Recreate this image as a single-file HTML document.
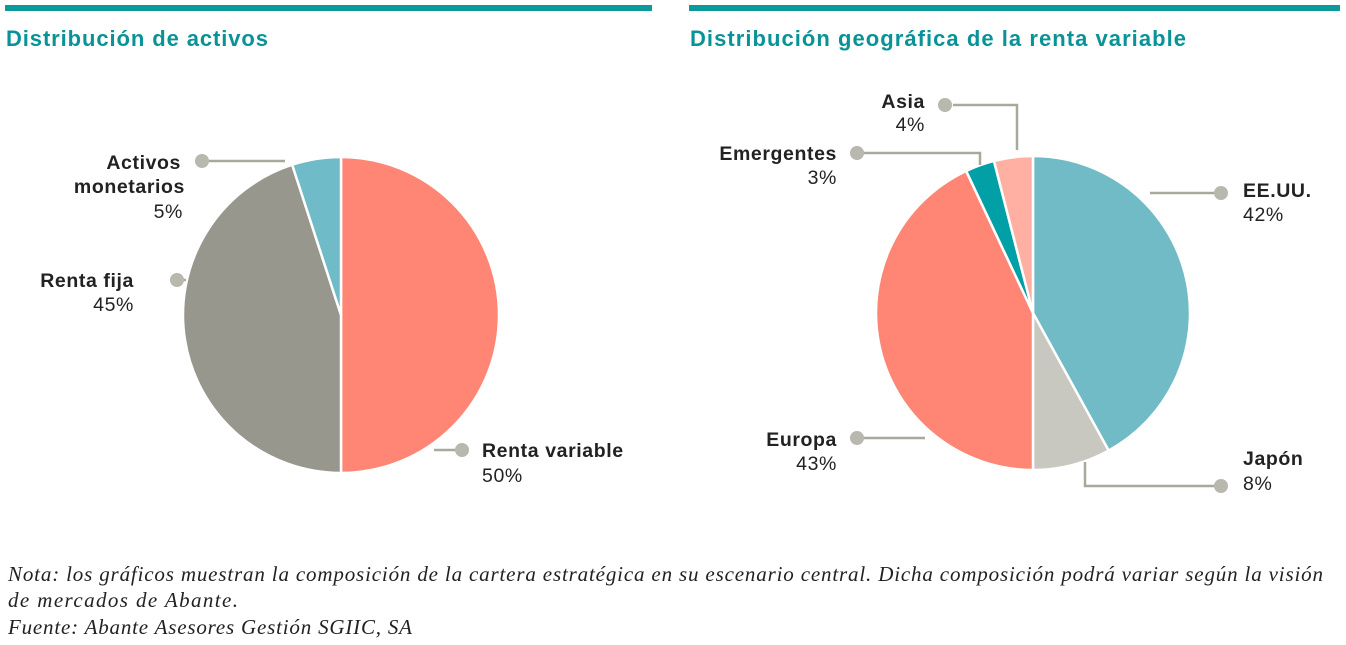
<!DOCTYPE html>
<html><head><meta charset="utf-8">
<style>
body{margin:0;width:1346px;height:645px;background:#fff;overflow:hidden;font-family:"Liberation Sans",sans-serif;}
svg{position:absolute;left:0;top:0}
.t{font-weight:bold;fill:#222;font-size:19.5px;letter-spacing:0.6px}
.p{fill:#222;font-size:19.5px;letter-spacing:0.6px}
.h{font-weight:bold;fill:#0a9396;font-size:22px}
.f{font-family:"Liberation Serif",serif;font-style:italic;font-size:21px;fill:#222}
</style></head><body>
<svg id="s" width="1346" height="645">
<rect x="5" y="5" width="647" height="6" fill="#0a9a9c"/>
<rect x="689" y="5" width="651" height="6" fill="#0a9a9c"/>
<text class="h" x="6" y="46" textLength="262">Distribución de activos</text>
<text class="h" x="690" y="46" textLength="496">Distribución geográfica de la renta variable</text>
<g id="pie1"></g>
<g id="pie2"></g>
<g stroke="#a8a89c" stroke-width="2.5" fill="none">
<polyline points="202,161 285,161"/><polyline points="177,280 186,280"/><polyline points="462,450 434,450"/>
<polyline points="953,105 1017,105 1017,150"/><polyline points="857,153 980,153 980,165"/>
<polyline points="1221,193 1150,193"/><polyline points="857,438 925,438"/><polyline points="1221,486 1085,486 1085,462"/>
</g>
<g fill="#b8b8ae">
<circle cx="202" cy="161" r="7"/><circle cx="177" cy="280" r="7"/><circle cx="462" cy="450" r="7"/>
<circle cx="945" cy="105" r="7"/><circle cx="857" cy="153" r="7"/><circle cx="1221" cy="193" r="7"/>
<circle cx="857" cy="438" r="7"/><circle cx="1221" cy="486" r="7"/>
</g>
<g>
<text class="t" x="181" y="169" text-anchor="end">Activos</text>
<text class="t" x="185" y="193" text-anchor="end">monetarios</text>
<text class="p" x="183" y="218" text-anchor="end">5%</text>
<text class="t" x="134" y="287" text-anchor="end">Renta fija</text>
<text class="p" x="134" y="311" text-anchor="end">45%</text>
<text class="t" x="482" y="457">Renta variable</text>
<text class="p" x="482" y="482">50%</text>
</g>
<g>
<text class="t" x="925" y="108" text-anchor="end">Asia</text>
<text class="p" x="925" y="131" text-anchor="end">4%</text>
<text class="t" x="837" y="160" text-anchor="end">Emergentes</text>
<text class="p" x="837" y="184" text-anchor="end">3%</text>
<text class="t" x="1243" y="197">EE.UU.</text>
<text class="p" x="1243" y="221">42%</text>
<text class="t" x="837" y="446" text-anchor="end">Europa</text>
<text class="p" x="837" y="470" text-anchor="end">43%</text>
<text class="t" x="1243" y="465">Japón</text>
<text class="p" x="1243" y="490">8%</text>
</g>
<g>
<text class="f" x="8" y="581" textLength="1315">Nota: los gráficos muestran la composición de la cartera estratégica en su escenario central. Dicha composición podrá variar según la visión</text>
<text class="f" x="8" y="607" textLength="230">de mercados de Abante.</text>
<text class="f" x="8" y="634" textLength="404">Fuente: Abante Asesores Gestión SGIIC, SA</text>
</g>
</svg>
<script>
const assetCats=["Renta variable","Renta fija","Activos monetarios"];
const assetVals=[50,45,5];
const geoCats=["EE.UU.","Japón","Europa","Emergentes","Asia"];
const geoVals=[42,8,43,3,4];
const assetColors=["#ff8575","#97978d","#6fbbc7"];
const geoColors=["#71bbc6","#c8c7c0","#ff8575","#00a0a6","#ffb0a3"];
function pie(id,cats,vals,cols,cx,cy,r){
  const g=document.getElementById(id);
  const tot=vals.reduce((a,b)=>a+b,0);let a0=0;
  vals.forEach((v,i)=>{
    const a1=a0+v/tot*2*Math.PI;
    const x0=cx+r*Math.sin(a0),y0=cy-r*Math.cos(a0),x1=cx+r*Math.sin(a1),y1=cy-r*Math.cos(a1);
    const p=document.createElementNS("http://www.w3.org/2000/svg","path");
    p.setAttribute("d",`M${cx},${cy}L${x0},${y0}A${r},${r} 0 ${a1-a0>Math.PI?1:0} 1 ${x1},${y1}Z`);
    p.setAttribute("fill",cols[i]);p.setAttribute("stroke","#fff");p.setAttribute("stroke-width","2.5");
    
    
    g.appendChild(p);a0=a1;
  });
}
pie("pie1",assetCats,assetVals,assetColors,341,315,158);
pie("pie2",geoCats,geoVals,geoColors,1033,313,157);
</script>
</body></html>
